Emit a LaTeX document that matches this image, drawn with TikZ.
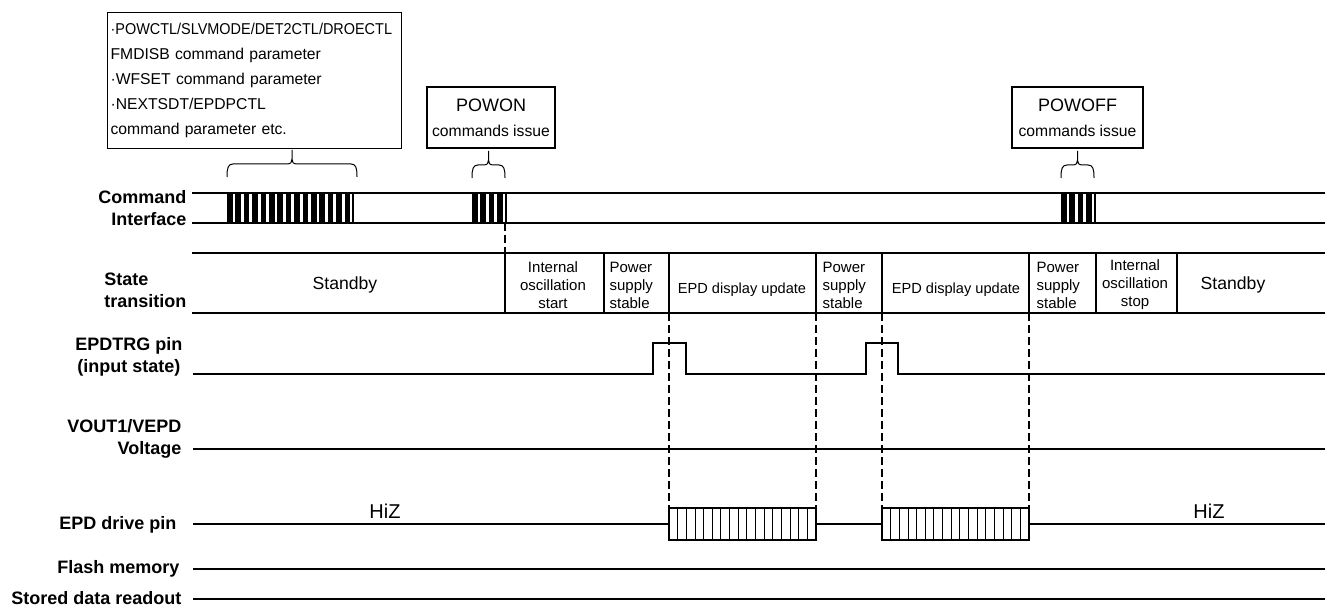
\documentclass[tikz,border=0pt]{standalone}
\usepackage{fontspec}
\usepackage{graphicx}
\setmainfont{Liberation Sans}
\usetikzlibrary{positioning}
\newcommand{\fs}[2]{\fontsize{#1}{#2}\selectfont}
% brace with a short stem: left x, right x, bottom y
\newcommand{\cmdbrace}[3]{%
  \pgfmathsetmacro{\bm}{(#1+#2)/2}
  \draw[line width=0.5pt] (#1,#3) .. controls (#1,#3-9) and (#1+1,#3-13) .. (#1+6,#3-13) -- (\bm-5,#3-13)
    .. controls (\bm-1,#3-13) and (\bm,#3-15) .. (\bm,#3-18) -- (\bm,#3-27) -- (\bm,#3-18) .. controls (\bm,#3-15) and (\bm+1,#3-13) .. (\bm+5,#3-13)
    -- (#2-6,#3-13) .. controls (#2-1,#3-13) and (#2,#3-9) .. (#2,#3);}

\begin{document}
\begin{tikzpicture}[x=0.5pt,y=-0.5pt,line width=0.6pt,
  lbl/.style={font=\fs{9}{11}\bfseries,inner sep=0pt,anchor=east},
  cell/.style={font=\fs{7.5}{9},inner sep=0pt},
  cmdnote/.style={draw,minimum height=30.5pt,inner sep=0pt,align=center,font=\fs{7.85}{12.5}},
  evt/.style={line width=1.3pt,dash pattern=on 4pt off 2pt}]
  \useasboundingbox (0,0) rectangle (1325,608);

  % command notes
  \node[draw,anchor=north west,text width=144pt,minimum height=68pt,inner xsep=1.5pt,inner ysep=0pt,align=left,font=\fs{7.85}{12.5}] (paramnote) at (107,12)
    {\scalebox{0.92}[1]{·POWCTL/SLVMODE/DET2CTL/DROECTL}\\FMDISB command parameter\\·WFSET command parameter\\·NEXTSDT/EPDPCTL\\command parameter etc.};
  \node[cmdnote,minimum width=64pt] (powon) at (491,117.5) {{\fs{9}{12.5}POWON}\\commands issue};
  \node[cmdnote,minimum width=65.5pt] (powoff) at (1077.5,117.5) {{\fs{9}{12.5}POWOFF}\\commands issue};
  \cmdbrace{227}{357}{177}
  \cmdbrace{472}{505}{178}
  \cmdbrace{1061}{1094}{178}

  % signal names
  \node[lbl,align=right] (cmdlbl) at (187,208) {Command\\Interface};
  \node[lbl,align=left] (statelbl) at (187,290) {State\\transition};
  \node[lbl,align=center] (trglbl) at (183,357) {EPDTRG pin\\(input state)};
  \node[lbl,align=right] (voutlbl) at (182,439) {VOUT1/VEPD\\Voltage};
  \node[lbl] (drvlbl) at (177,525) {EPD drive pin};
  \node[lbl] (flashlbl) at (180,569) {Flash memory};
  \node[lbl] (readlbl) at (182,598) {Stored data readout};

  % command interface
  \draw (192,193) -- (1325,193) (192,223) -- (1325,223);
  \foreach \x/\n in {227/14,472/3,1061/3} {
    \foreach \i in {0,...,\n} \fill (\x+\i*8.4,193) rectangle ++(5.5,30);
    \draw[line width=1pt] (\x+\n*8.4+8.4,193) -- (\x+\n*8.4+8.4,223);
  }
  \draw[evt] (505,223) -- (505,253);

  % state transition
  \draw[line width=0.8pt] (192,253) -- (1325,253) (192,313) -- (1325,313);
  \foreach \x in {505,604,669,816,882,1029,1096,1177} \draw[line width=0.8pt] (\x,253) -- (\x,313);
  \node[cell,font=\fs{8.8}{10}] (stby1) at (345,285) {Standby};
  \node[cell,align=center] (oscon) at (553,285) {Internal\\oscillation\\start};
  \node[cell,align=left,anchor=west] (pwr1) at (609,285) {Power\\supply\\stable};
  \node[cell,font=\fs{7.3}{9}] (upd1) at (742,290) {EPD display update};
  \node[cell,align=left,anchor=west] (pwr2) at (822,285) {Power\\supply\\stable};
  \node[cell,font=\fs{7.3}{9}] (upd2) at (956,290) {EPD display update};
  \node[cell,align=left,anchor=west] (pwr3) at (1036,285) {Power\\supply\\stable};
  \node[cell,align=center] (oscoff) at (1135,285) {Internal\\oscillation\\stop};
  \node[cell,font=\fs{8.8}{10}] (stby2) at (1233,285) {Standby};

  % pins
  \draw (193,374) -- (653,374) -- (653,343) -- (686,343) -- (686,374) -- (866,374) -- (866,343) -- (898,343) -- (898,374) -- (1325,374);
  \draw (193,449) -- (1325,449);
  \draw (193,524) -- (669,524) (816,524) -- (882,524) (1029,524) -- (1325,524);
  \foreach \a/\b in {669/816,882/1029} {
    \draw[line width=0.8pt] (\a,508) rectangle (\b,540);
    \foreach \k in {1,...,16} \draw[line width=0.45pt] (\a+\k*8.65,508) -- (\a+\k*8.65,540);
  }
  \node[font=\fs{10}{12}] (hiz1) at (385,511) {HiZ};
  \node[font=\fs{10}{12}] (hiz2) at (1209,511) {HiZ};
  \draw (193,569) -- (1325,569);
  \draw (193,599) -- (1325,599);
  \foreach \x in {669,816,882,1029} \draw[evt] (\x,313) -- (\x,508);
\end{tikzpicture}
\end{document}
